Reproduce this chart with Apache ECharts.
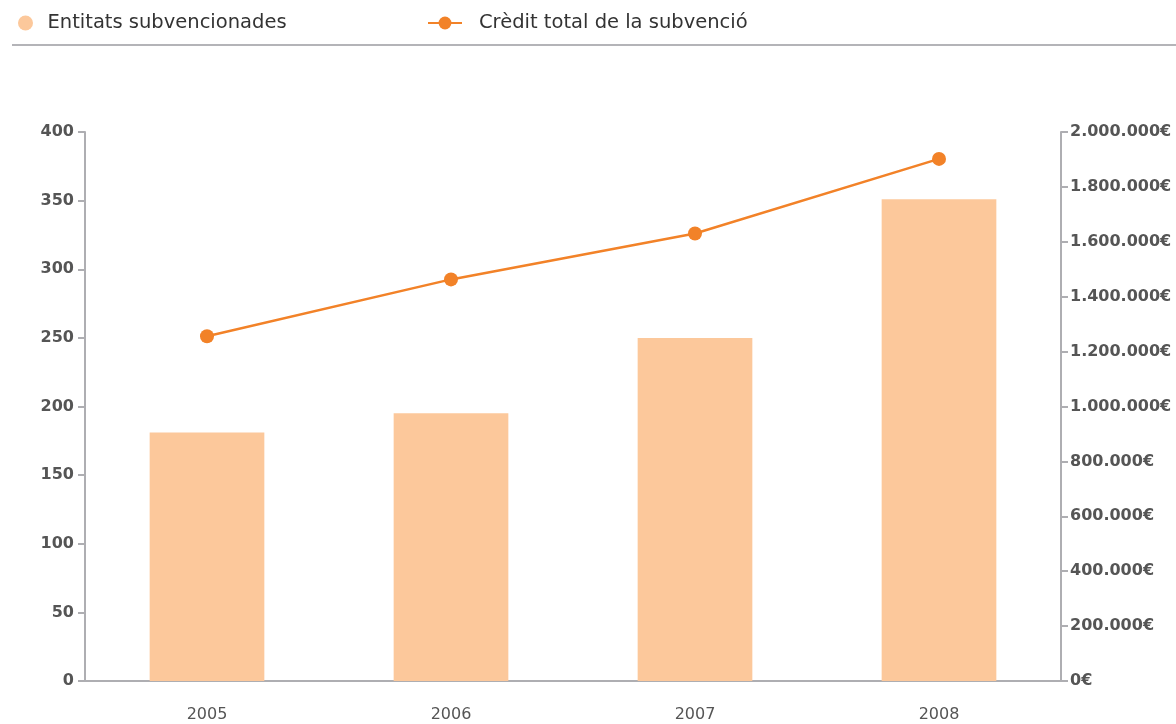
<!DOCTYPE html>
<html><head><meta charset="utf-8">
<script src="https://cdn.jsdelivr.net/npm/echarts@6/dist/echarts.min.js"></script>
<style>html,body{margin:0;padding:0;background:#fff}#c{width:1176px;height:724px}</style>
</head><body><div id="c"></div>
<script>
const categories = ['2005', '2006', '2007', '2008'];
const entitats = [181, 195, 250, 351];
const credit = [1256000, 1463000, 1630000, 1902000];
const leftTicks = [0, 50, 100, 150, 200, 250, 300, 350, 400];
const rightTicks = [0, 200000, 400000, 600000, 800000, 1000000, 1200000, 1400000, 1600000, 1800000, 2000000];

function eur(v) {
  return String(Math.round(v)).replace(/\B(?=(\d{3})+(?!\d))/g, '.') + '€';
}
const axisGray = '#aeaeb2';
const labelFont = {color: '#555', fontSize: 16, fontWeight: 'bold', fontFamily: 'DejaVu Sans'};
const legendText = {color: '#333', fontSize: 19.5, fontFamily: 'DejaVu Sans'};
const chart = echarts.init(document.getElementById('c'));
chart.setOption({
  animation: false,
  legend: [{
    top: 8, left: 13, itemWidth: 34, itemHeight: 15,
    textStyle: legendText,
    data: [{name: 'Entitats subvencionades', icon: 'circle', itemStyle: {color: '#fcc89b'}}]
  }, {
    top: 8, left: 422, itemWidth: 34, itemHeight: 16,
    textStyle: Object.assign({padding: [0, 0, 0, 12]}, legendText),
    data: [{name: 'Crèdit total de la subvenció'}]
  }],
  graphic: [{type: 'line', shape: {x1: 12, y1: 45, x2: 1176, y2: 45}, style: {stroke: '#b4b4b8', lineWidth: 2}}],
  grid: {left: 85, right: 115, top: 132, bottom: 43},
  xAxis: {
    type: 'category', data: categories,
    axisLine: {lineStyle: {color: axisGray, width: 2}},
    axisTick: {show: false},
    axisLabel: {color: '#555', fontSize: 16, fontFamily: 'DejaVu Sans', margin: 26}
  },
  yAxis: [{
    type: 'value', min: 0, max: 400, interval: 50,
    axisLine: {show: true, lineStyle: {color: axisGray, width: 2}},
    axisTick: {show: true, length: 7, lineStyle: {color: axisGray, width: 2}},
    splitLine: {show: false},
    axisLabel: Object.assign({margin: 11}, labelFont)
  }, {
    type: 'value', min: 0, max: 2000000, interval: 200000, position: 'right',
    axisLine: {show: true, lineStyle: {color: axisGray, width: 2}},
    axisTick: {show: true, length: 7, lineStyle: {color: axisGray, width: 2}},
    splitLine: {show: false},
    axisLabel: Object.assign({margin: 9, formatter: eur}, labelFont)
  }],
  series: [{
    name: 'Entitats subvencionades', type: 'bar', data: entitats,
    barWidth: '47%', itemStyle: {color: '#fcc89b'}
  }, {
    name: 'Crèdit total de la subvenció', type: 'line', yAxisIndex: 1, data: credit,
    symbol: 'circle', symbolSize: 14,
    lineStyle: {color: '#f28228', width: 2.5},
    itemStyle: {color: '#f28228'}
  }]
});
</script></body></html>
